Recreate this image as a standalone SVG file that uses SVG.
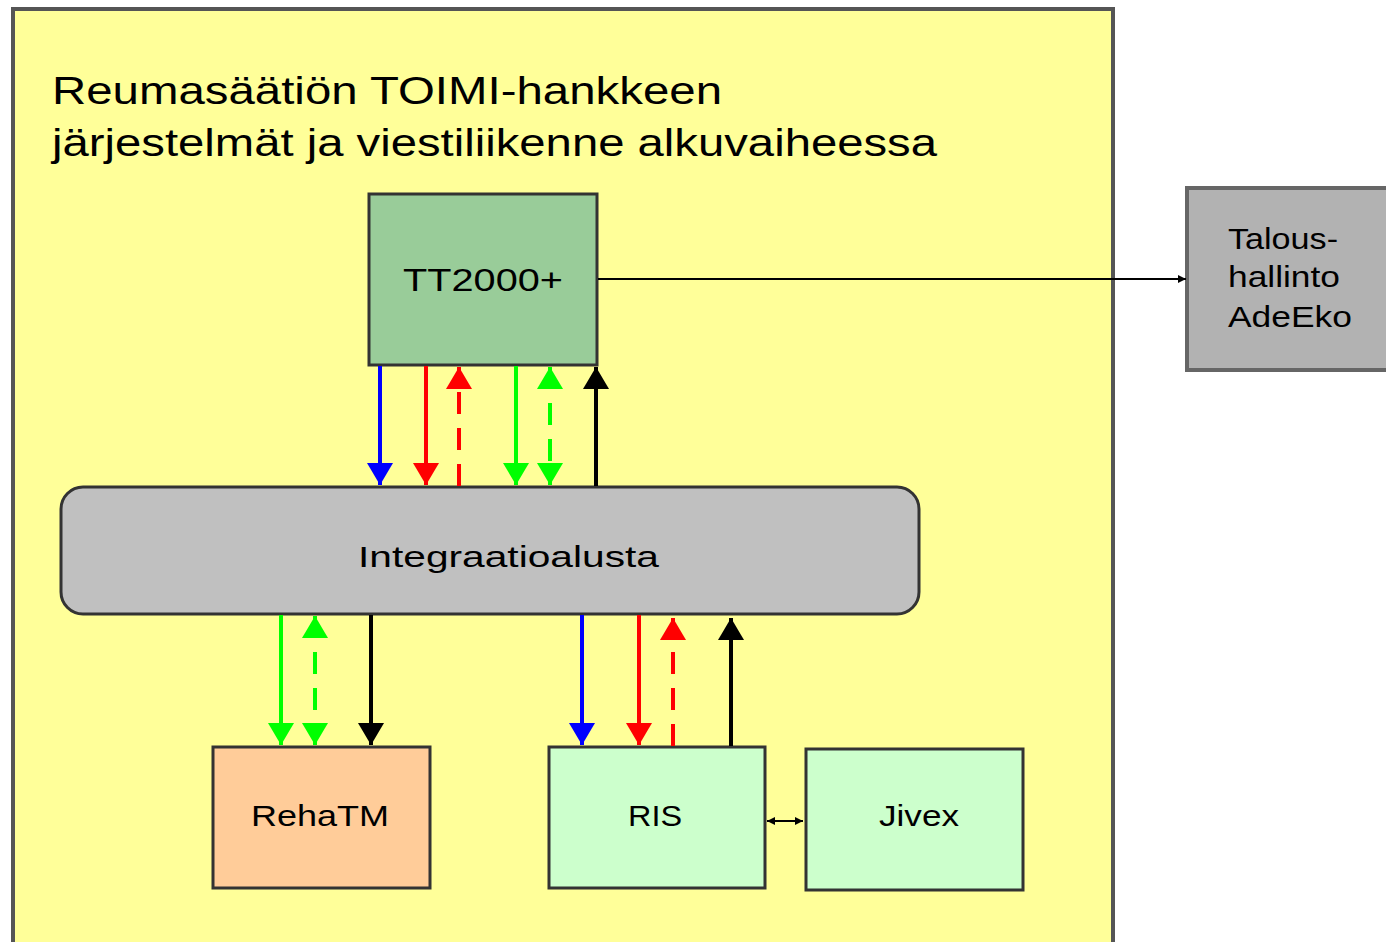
<svg xmlns="http://www.w3.org/2000/svg" width="1386" height="942" viewBox="0 0 1386 942">
<style>
text{font-family:"Liberation Sans",Arial,sans-serif;fill:#000}
.box{stroke:#333;stroke-width:3}
.c{stroke-width:4;fill:none}
.d{stroke-dasharray:22 14}
</style>
<defs>
<marker id="hb" viewBox="0 0 22 26" refX="22" refY="13" markerWidth="22" markerHeight="26" markerUnits="userSpaceOnUse" orient="auto-start-reverse"><path d="M0,0L22,13L0,26z" fill="#0000FF"/></marker>
<marker id="hr" viewBox="0 0 22 26" refX="22" refY="13" markerWidth="22" markerHeight="26" markerUnits="userSpaceOnUse" orient="auto-start-reverse"><path d="M0,0L22,13L0,26z" fill="#FF0000"/></marker>
<marker id="hg" viewBox="0 0 22 26" refX="22" refY="13" markerWidth="22" markerHeight="26" markerUnits="userSpaceOnUse" orient="auto-start-reverse"><path d="M0,0L22,13L0,26z" fill="#00FF00"/></marker>
<marker id="hk" viewBox="0 0 22 26" refX="22" refY="13" markerWidth="22" markerHeight="26" markerUnits="userSpaceOnUse" orient="auto-start-reverse"><path d="M0,0L22,13L0,26z" fill="#000"/></marker>
<marker id="hs" viewBox="0 0 8 8" refX="8" refY="4" markerWidth="8" markerHeight="8" markerUnits="userSpaceOnUse" orient="auto-start-reverse"><path d="M0,0L8,4L0,8z" fill="#000"/></marker>
</defs>
<rect width="1386" height="942" fill="#fff"/>
<g id="container">
<rect x="13" y="9" width="1100" height="960" fill="#FFFF99" stroke="#555" stroke-width="4"/>
<text x="52" y="104" font-size="38" textLength="670" lengthAdjust="spacingAndGlyphs">Reumasäätiön TOIMI-hankkeen</text>
<text x="52" y="156" font-size="38" textLength="885" lengthAdjust="spacingAndGlyphs">järjestelmät ja viestiliikenne alkuvaiheessa</text>
</g>
<g id="tt2000">
<rect class="box" x="369" y="194" width="228" height="171" fill="#99CC99"/>
<text x="403" y="291" font-size="32" textLength="160" lengthAdjust="spacingAndGlyphs">TT2000+</text>
</g>
<g id="integraatio">
<rect class="box" x="61" y="487" width="858" height="127" rx="22" fill="#C0C0C0"/>
<text x="358" y="567" font-size="30" textLength="301" lengthAdjust="spacingAndGlyphs">Integraatioalusta</text>
</g>
<g id="rehatm">
<rect class="box" x="213" y="747" width="217" height="141" fill="#FFCC99"/>
<text x="251" y="826" font-size="30" textLength="138" lengthAdjust="spacingAndGlyphs">RehaTM</text>
</g>
<g id="ris">
<rect class="box" x="549" y="747" width="216" height="141" fill="#CCFFCC"/>
<text x="628" y="826" font-size="30" textLength="54" lengthAdjust="spacingAndGlyphs">RIS</text>
</g>
<g id="jivex">
<rect class="box" x="806" y="749" width="217" height="141" fill="#CCFFCC"/>
<text x="879" y="826" font-size="30" textLength="80" lengthAdjust="spacingAndGlyphs">Jivex</text>
</g>
<g id="talous">
<rect x="1187" y="188" width="205" height="182" fill="#B2B2B2" stroke="#666" stroke-width="4"/>
<text x="1228" y="249" font-size="30" textLength="110" lengthAdjust="spacingAndGlyphs">Talous-</text>
<text x="1228" y="287" font-size="30" textLength="112" lengthAdjust="spacingAndGlyphs">hallinto</text>
<text x="1228" y="327" font-size="30" textLength="124" lengthAdjust="spacingAndGlyphs">AdeEko</text>
</g>
<g id="connectors">
<line class="c" x1="380" y1="366" x2="380" y2="485" stroke="#0000FF" marker-end="url(#hb)"/>
<line class="c" x1="426" y1="366" x2="426" y2="485" stroke="#FF0000" marker-end="url(#hr)"/>
<line class="c d" x1="459" y1="486" x2="459" y2="367" stroke="#FF0000" marker-end="url(#hr)"/>
<line class="c" x1="516" y1="366" x2="516" y2="485" stroke="#00FF00" marker-end="url(#hg)"/>
<line class="c d" x1="550" y1="367" x2="550" y2="485" stroke="#00FF00" marker-start="url(#hg)" marker-end="url(#hg)"/>
<line class="c" x1="596" y1="486" x2="596" y2="367" stroke="#000" marker-end="url(#hk)"/>
<line class="c" x1="281" y1="615" x2="281" y2="745" stroke="#00FF00" marker-end="url(#hg)"/>
<line class="c d" x1="315" y1="616" x2="315" y2="745" stroke="#00FF00" marker-start="url(#hg)" marker-end="url(#hg)"/>
<line class="c" x1="371" y1="615" x2="371" y2="745" stroke="#000" marker-end="url(#hk)"/>
<line class="c" x1="582" y1="615" x2="582" y2="745" stroke="#0000FF" marker-end="url(#hb)"/>
<line class="c" x1="639" y1="615" x2="639" y2="745" stroke="#FF0000" marker-end="url(#hr)"/>
<line class="c d" x1="673" y1="746" x2="673" y2="618" stroke="#FF0000" marker-end="url(#hr)"/>
<line class="c" x1="731" y1="746" x2="731" y2="618" stroke="#000" marker-end="url(#hk)"/>
<line x1="598" y1="279" x2="1186" y2="279" stroke="#000" stroke-width="2" marker-end="url(#hs)"/>
<line x1="767" y1="821" x2="803" y2="821" stroke="#000" stroke-width="2" marker-start="url(#hs)" marker-end="url(#hs)"/>
</g>
</svg>
